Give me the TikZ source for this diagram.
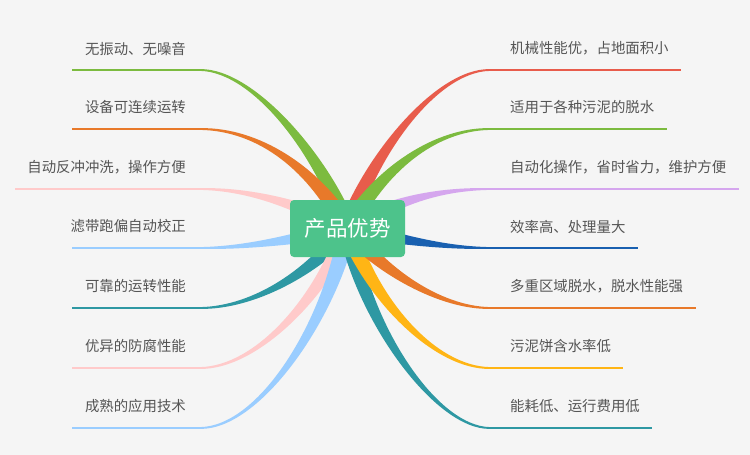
\documentclass[tikz,border=0pt]{standalone}
\usepackage{fontspec}
\newfontfamily\cjk{Noto Sans CJK SC}
\usetikzlibrary{calc}
\definecolor{bg}{HTML}{F5F5F5}
\definecolor{txt}{HTML}{555555}
\definecolor{cgreen}{HTML}{4DC38B}
\definecolor{bgreen}{HTML}{7CBB3F}
\definecolor{borange}{HTML}{E8792A}
\definecolor{bpink}{HTML}{FFCACA}
\definecolor{blblue}{HTML}{9ACDFF}
\definecolor{bteal}{HTML}{2E98A3}
\definecolor{bred}{HTML}{E85C4B}
\definecolor{bpurple}{HTML}{D5A6EE}
\definecolor{bdblue}{HTML}{1960B0}
\definecolor{byellow}{HTML}{FFB515}
% color, end, c1, c2, angle a, angle b
\newcommand{\mybranch}[6]{%
  \fill[#1] ($(#2)+(0,-0.9)$) .. controls ($(#3)+(0,-1.8)$) and ($(#4)!5.5pt!#6:(hub)$) .. ($(hub)!9pt!#5:(#4)$)
     -- ($(hub)!9pt!#6:(#4)$) .. controls ($(#4)!5.5pt!#5:(hub)$) and ($(#3)+(0,1.8)$) .. ($(#2)+(0,0.9)$) -- cycle;}
\begin{document}
\begin{tikzpicture}[x=1pt,y=-1pt,
  lbl/.style={font=\cjk\fontsize{14.4}{16}\selectfont, text=txt, inner sep=0pt},
  uline/.style={line width=1.8pt}]
\fill[bg] (0,0) rectangle (750,455);
\useasboundingbox (0,0) rectangle (750,455);
\coordinate (hub) at (347.5,228.5);
% left ends
\coordinate (eL1) at (200,70);  \coordinate (sL1) at (72,70);
\coordinate (eL2) at (200,129); \coordinate (sL2) at (72,129);
\coordinate (eL3) at (200,189); \coordinate (sL3) at (15,189);
\coordinate (eL4) at (200,248); \coordinate (sL4) at (72,248);
\coordinate (eL5) at (200,308); \coordinate (sL5) at (72,308);
\coordinate (eL6) at (200,368); \coordinate (sL6) at (72,368);
\coordinate (eL7) at (200,428); \coordinate (sL7) at (72,428);
% right ends
\coordinate (eR1) at (490,70);  \coordinate (tR1) at (681,70);
\coordinate (eR2) at (490,129); \coordinate (tR2) at (667,129);
\coordinate (eR3) at (490,189); \coordinate (tR3) at (739,189);
\coordinate (eR4) at (490,248); \coordinate (tR4) at (638,248);
\coordinate (eR5) at (490,308); \coordinate (tR5) at (696,308);
\coordinate (eR6) at (490,368); \coordinate (tR6) at (623,368);
\coordinate (eR7) at (490,428); \coordinate (tR7) at (652,428);
% underlines
\draw[uline,bgreen]  (sL1) -- (eL1);
\draw[uline,borange] (sL2) -- (eL2);
\draw[uline,bpink]   (sL3) -- (eL3);
\draw[uline,blblue]  (sL4) -- (eL4);
\draw[uline,bteal]   (sL5) -- (eL5);
\draw[uline,bpink]   (sL6) -- (eL6);
\draw[uline,blblue]  (sL7) -- (eL7);
\draw[uline,bred]    (eR1) -- (tR1);
\draw[uline,bgreen]  (eR2) -- (tR2);
\draw[uline,bpurple] (eR3) -- (tR3);
\draw[uline,bdblue]  (eR4) -- (tR4);
\draw[uline,borange] (eR5) -- (tR5);
\draw[uline,byellow] (eR6) -- (tR6);
\draw[uline,bteal]   (eR7) -- (tR7);
% branches
\mybranch{bpink}{eL3}{250,189}{300,205}{-90}{90}
\mybranch{blblue}{eL4}{250,248}{300,238}{-90}{90}
\mybranch{bgreen}{eL1}{255,70}{325,160}{-90}{90}
\mybranch{borange}{eL2}{260,129}{315,170}{-90}{90}
\mybranch{bteal}{eL5}{255,308}{315,270}{-90}{90}
\mybranch{bpink}{eL6}{255,368}{320,300}{-90}{90}
\mybranch{blblue}{eL7}{260,428}{330,320}{-90}{90}
\mybranch{bpurple}{eR3}{440,189}{395,200}{90}{-90}
\mybranch{bdblue}{eR4}{440,248}{395,238}{90}{-90}
\mybranch{bred}{eR1}{435,70}{368,160}{90}{-90}
\mybranch{bgreen}{eR2}{435,129}{380,170}{90}{-90}
\mybranch{bteal}{eR7}{435,428}{362,320}{90}{-90}
\mybranch{byellow}{eR6}{435,368}{372,300}{90}{-90}
\mybranch{borange}{eR5}{440,308}{380,270}{90}{-90}
% centre
\node[fill=cgreen, rounded corners=4pt, minimum width=115pt, minimum height=57pt,
      text=white, inner sep=0pt, font=\cjk\fontsize{21.5}{24}\selectfont] (center) at (hub) {产品优势};
% labels
\node[lbl, anchor=east] (tL1) at (186,48.5)  {无振动、无噪音};
\node[lbl, anchor=east] (tL2) at (186,107.5) {设备可连续运转};
\node[lbl, anchor=east] (tL3) at (186,167.5) {自动反冲冲洗，操作方便};
\node[lbl, anchor=east] (tL4) at (186,226.5) {滤带跑偏自动校正};
\node[lbl, anchor=east] (tL5) at (186,286.5) {可靠的运转性能};
\node[lbl, anchor=east] (tL6) at (186,346.5) {优异的防腐性能};
\node[lbl, anchor=east] (tL7) at (186,406.5) {成熟的应用技术};
\node[lbl, anchor=west] (nR1) at (510,48.5)  {机械性能优，占地面积小};
\node[lbl, anchor=west] (nR2) at (510,107.5) {适用于各种污泥的脱水};
\node[lbl, anchor=west] (nR3) at (510,167.5) {自动化操作，省时省力，维护方便};
\node[lbl, anchor=west] (nR4) at (510,226.5) {效率高、处理量大};
\node[lbl, anchor=west] (nR5) at (510,286.5) {多重区域脱水，脱水性能强};
\node[lbl, anchor=west] (nR6) at (510,346.5) {污泥饼含水率低};
\node[lbl, anchor=west] (nR7) at (510,406.5) {能耗低、运行费用低};
\end{tikzpicture}
\end{document}
